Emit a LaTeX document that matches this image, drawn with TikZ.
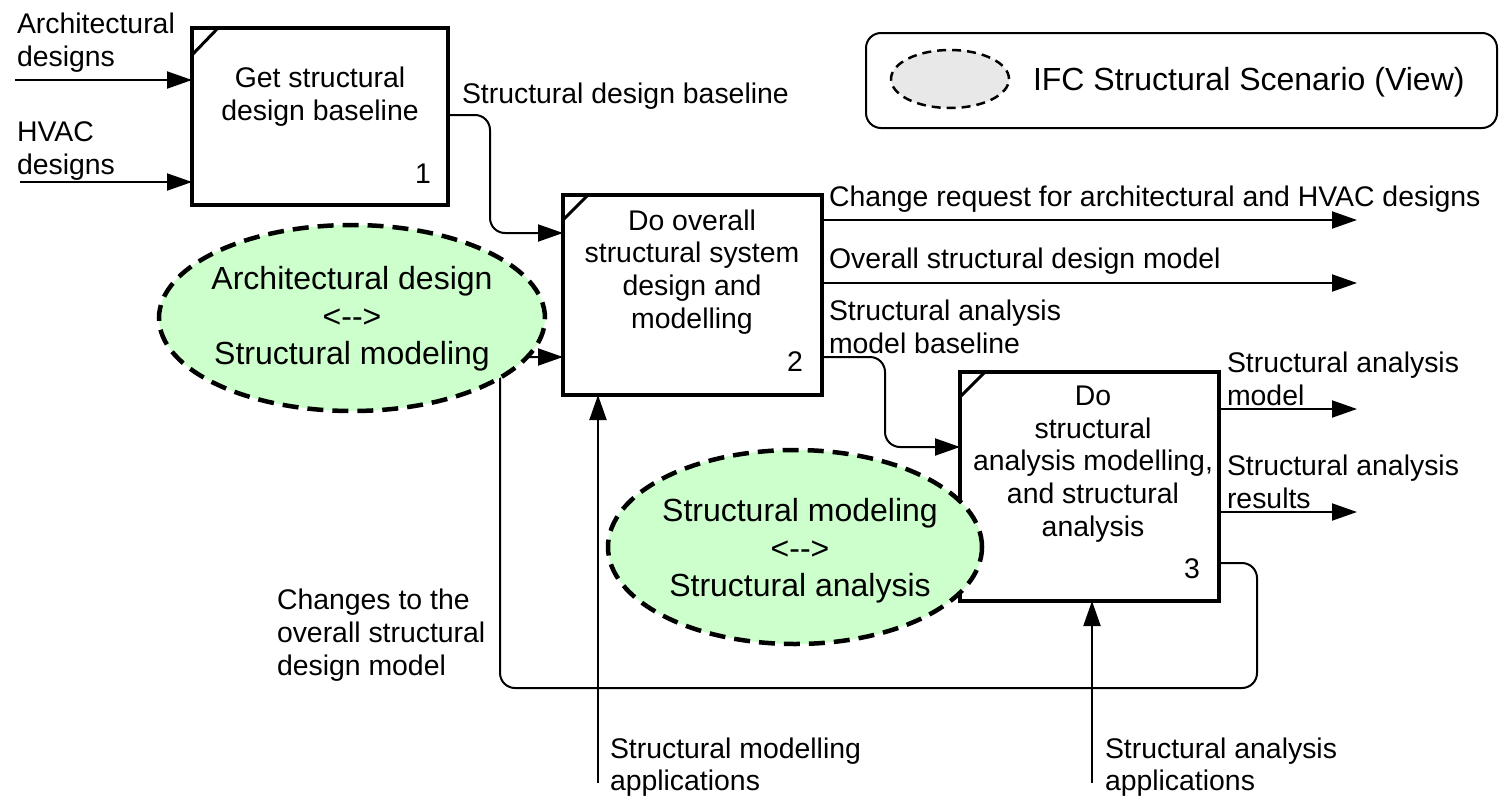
\documentclass[tikz,border=0pt]{standalone}
\usepackage{fontspec}
\setmainfont{Liberation Sans}
\usetikzlibrary{arrows.meta,shapes.geometric}
\newcommand\fsA{\fontsize{28.4pt}{32.7pt}\selectfont}
\newcommand\fsB{\fontsize{32pt}{37.5pt}\selectfont}
\definecolor{scgreen}{HTML}{CCFFCC}
\definecolor{lggray}{HTML}{E8E8E8}
\begin{document}
\begin{tikzpicture}[x=1pt,y=-1pt,
  every node/.style={font=\fsA, inner sep=0pt, outer sep=0pt},
  pbox/.style={draw, line width=4pt, fill=white, rectangle},
  diag/.style={line width=3pt},
  conn/.style={line width=2pt},
  arr/.style={-{Triangle[length=25pt,width=17pt]}},
  lbl/.style={align=left, anchor=west},
  btxt/.style={align=center},
  scen/.style={ellipse, draw, line width=4.5pt, dash pattern=on 16pt off 9pt, fill=scgreen},
  scentxt/.style={align=center, font=\fsB},
]
\useasboundingbox (0,0) rectangle (1499,798);

% legend
\node[draw, line width=2pt, rounded corners=15pt, minimum width=631pt, minimum height=95pt] (leg) at (1181.5,80.5) {};
\node[ellipse, draw, line width=2.5pt, dash pattern=on 9pt off 6pt, fill=lggray, minimum width=118pt, minimum height=58pt] (legell) at (950,79) {};
\node[anchor=west, font=\fsB] (legtxt) at (1033,82) {IFC Structural Scenario (View)};

% activity boxes
\node[pbox, minimum width=256pt, minimum height=177pt] (b1) at (320,116.5) {};
\node[pbox, minimum width=259pt, minimum height=200pt] (b2) at (692.5,295) {};
\node[pbox, minimum width=259pt, minimum height=229pt] (b3) at (1089.5,486.5) {};
\draw[diag] ([yshift=-27pt]b1.north west) -- ([xshift=26pt]b1.north west);
\draw[diag] ([yshift=-25pt]b2.north west) -- ([xshift=25pt]b2.north west);
\draw[diag] ([yshift=-25pt]b3.north west) -- ([xshift=25pt]b3.north west);

% inputs to box 1
\coordinate (a1s) at (15,80);
\coordinate (a2s) at (20,182);
\draw[conn,arr] (a1s) -- (a1s -| b1.west);
\draw[conn,arr] (a2s) -- (a2s -| b1.west);

% box 1 -> box 2
\coordinate (o1) at (490,115);
\coordinate (i2) at (490,233);
\draw[conn,arr,rounded corners=15pt] (o1 -| b1.east) -- (o1) -- (i2) -- (i2 -| b2.west);

% box 2 outputs
\coordinate (c1) at (1357,220);
\coordinate (c2) at (1357,283);
\draw[conn,arr] (c1 -| b2.east) -- (c1);
\draw[conn,arr] (c2 -| b2.east) -- (c2);

% box 2 -> box 3
\coordinate (o2) at (885,357);
\coordinate (i3) at (885,447);
\draw[conn,arr,rounded corners=15pt] (o2 -| b2.east) -- (o2) -- (i3) -- (i3 -| b3.west);

% box 3 outputs
\coordinate (d1) at (1357,409);
\coordinate (d2) at (1357,512);
\draw[conn,arr] (d1 -| b3.east) -- (d1);
\draw[conn,arr] (d2 -| b3.east) -- (d2);

% feedback box 3 -> box 2
\coordinate (f1) at (1257,563);
\coordinate (f2) at (1257,688);
\coordinate (f3) at (500,688);
\coordinate (f4) at (500,357);
\draw[conn,arr,rounded corners=15pt] (f1 -| b3.east) -- (f1) -- (f2) -- (f3) -- (f4) -- (f4 -| b2.west);

% mechanisms
\coordinate (m1) at (598,783);
\coordinate (m2) at (1092,783);
\draw[conn,arr] (m1) -- (m1 |- b2.south);
\draw[conn,arr] (m2) -- (m2 |- b3.south);

% scenario ellipses
\node[scen, minimum width=386pt, minimum height=186pt] (e1) at (352,318) {};
\node[scentxt] (e1t) at (352,319) {Architectural design\\<{-}{-}>\\Structural modeling};
\node[scen, minimum width=374pt, minimum height=194pt] (e2) at (795,547) {};
\node[scentxt] (e2t) at (800,551) {Structural modeling\\<{-}{-}>\\Structural analysis};

% box texts
\node[btxt] (b1t) at (320,97) {Get structural\\design baseline};
\node (b1n) at (423,174) {1};
\node[btxt] (b2t) at (692,272) {Do overall\\structural system\\design and\\modelling};
\node (b2n) at (795,362) {2};
\node[btxt] (b3t) at (1093,464) {Do\\structural\\analysis modelling,\\and structural\\analysis};
\node (b3n) at (1192,569) {3};

% arrow labels
\node[lbl] (l1) at (17,43) {Architectural\\designs};
\node[lbl] (l2) at (17,151) {HVAC\\designs};
\node[lbl] (l3) at (462,96) {Structural design baseline};
\node[lbl] (l4) at (829,199) {Change request for architectural and HVAC designs};
\node[lbl] (l5) at (829,261) {Overall structural design model};
\node[lbl] (l6) at (829,327) {Structural analysis\\model baseline};
\node[lbl] (l7) at (1227,379) {Structural analysis\\model};
\node[lbl] (l8) at (1227,482) {Structural analysis\\results};
\node[lbl] (l9) at (277,635) {Changes to the\\overall structural\\design model};
\node[lbl] (l10) at (610,767) {Structural modelling\\applications};
\node[lbl] (l11) at (1105,767) {Structural analysis\\applications};
\end{tikzpicture}
\end{document}
